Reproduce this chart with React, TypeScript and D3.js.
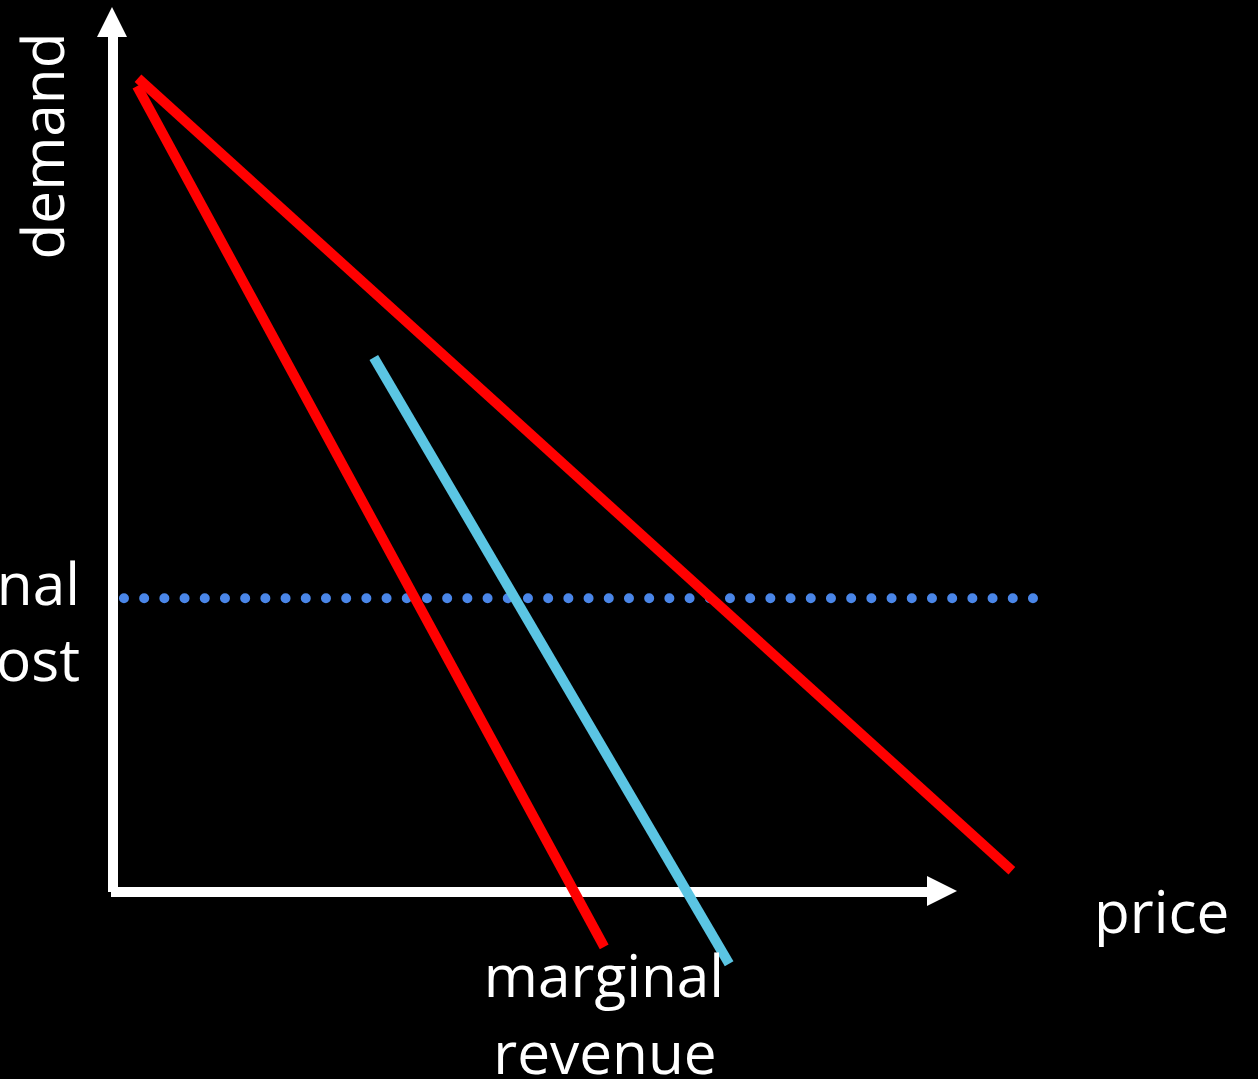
import React, { useEffect } from "react";
import * as d3 from "d3";

// Economic model in abstract units: quantity on x (0–100), value on y (0–100).
const demandLine: [number, number][] = [
  [2.96, 91.95],
  [106.5, 2.4],
];
const marginalRevenueLine: [number, number][] = [
  [2.84, 91.05],
  [58.2, -6.2],
];
const cyanLine: [number, number][] = [
  [30.9, 60.4],
  [73.0, -8.1],
];
const marginalCostLevel = 33.2;
const marginalCostSpan: [number, number] = [1.3, 109.15];

const axisLabels = {
  y: "demand",
  x: "price",
  mc: ["marginal", "cost"],
  mr: ["marginal", "revenue"],
};

const W = 1258;
const H = 1079;
const FONT = "'Open Sans', 'Noto Sans', sans-serif";

export default function App() {
  useEffect(() => {
    document.body.style.margin = "0";
    document.body.style.background = "#000";
  }, []);

  const x = d3.scaleLinear().domain([0, 100]).range([113, 957]);
  const y = d3.scaleLinear().domain([0, 100]).range([892, 7]);
  const line = d3
    .line<[number, number]>()
    .x((d) => x(d[0]))
    .y((d) => y(d[1]));

  const x0 = x(0);
  const y0 = y(0);
  const yTop = y(100);
  const xEnd = x(100);
  const head = 30;
  const half = 15;

  const mcY = y(marginalCostLevel);

  return (
    <svg
      width={W}
      height={H}
      style={{ display: "block", position: "absolute", left: 0, top: 0 }}
    >
      <rect width={W} height={H} fill="#000" />

      {/* axes */}
      <line x1={x0} x2={x0} y1={y0} y2={yTop + head} stroke="#fff" strokeWidth={10} />
      <path
        d={`M${x0 - 1},${yTop} L${x0 - 1 - half},${yTop + head} L${x0 - 1 + half},${yTop + head} Z`}
        fill="#fff"
      />
      <line x1={x0 - 2} x2={xEnd - head + 1} y1={y0} y2={y0} stroke="#fff" strokeWidth={10} />
      <path
        d={`M${xEnd},${y0 - 1} L${xEnd - head},${y0 - 1 - half} L${xEnd - head},${y0 - 1 + half} Z`}
        fill="#fff"
      />

      {/* marginal cost */}
      <line
        x1={x(marginalCostSpan[0])}
        x2={x(marginalCostSpan[1])}
        y1={mcY}
        y2={mcY}
        stroke="#4a86e8"
        strokeWidth={10}
        strokeLinecap="round"
        strokeDasharray="0 20.2"
      />

      {/* curves */}
      <path d={line(demandLine) || ""} stroke="#ff0000" strokeWidth={10} fill="none" />
      <path d={line(marginalRevenueLine) || ""} stroke="#ff0000" strokeWidth={10} fill="none" />
      <path d={line(cyanLine) || ""} stroke="#5bc5e3" strokeWidth={10} fill="none" />

      {/* labels */}
      <g fill="#fff" fontFamily={FONT} fontSize={58.5}>
        <text transform={`translate(64,146) rotate(-90)`} textAnchor="middle">
          {axisLabels.y}
        </text>
        <text x={1094} y={933}>
          {axisLabels.x}
        </text>
        <text x={80} y={605} textAnchor="end">
          {axisLabels.mc[0]}
        </text>
        <text x={80} y={681} textAnchor="end">
          {axisLabels.mc[1]}
        </text>
        <text x={604} y={997} textAnchor="middle">
          {axisLabels.mr[0]}
        </text>
        <text x={605} y={1074} textAnchor="middle">
          {axisLabels.mr[1]}
        </text>
      </g>
    </svg>
  );
}
